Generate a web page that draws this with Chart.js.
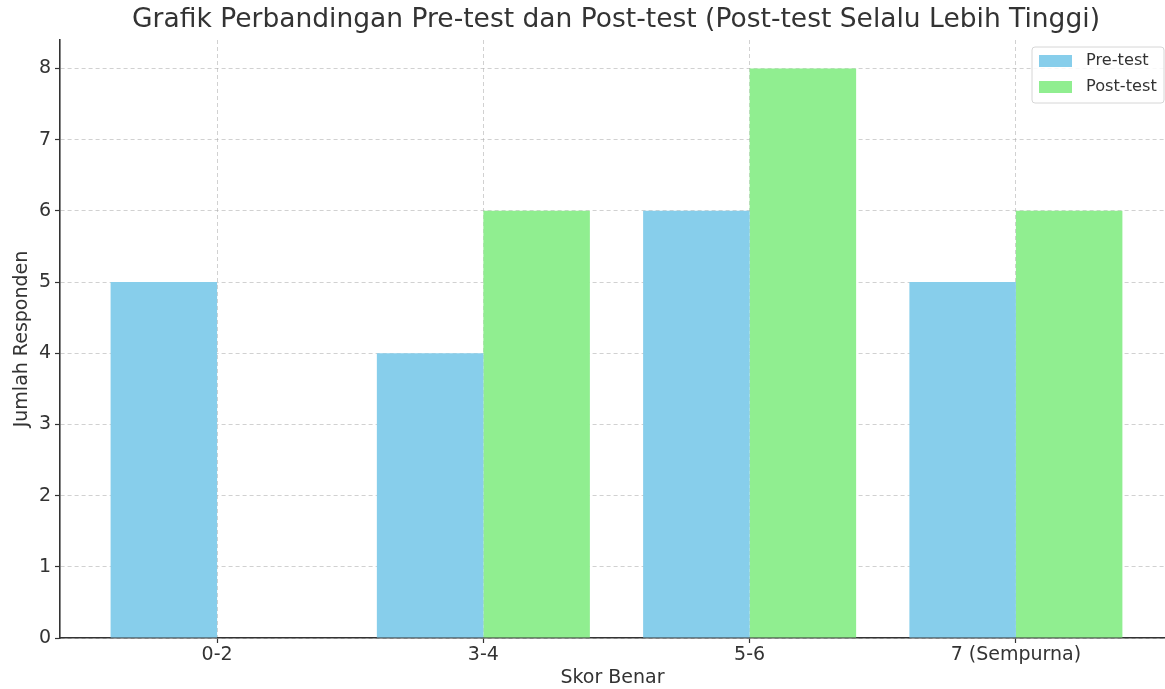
<!DOCTYPE html>
<html>
<head>
<meta charset="utf-8">
<script src="https://cdn.jsdelivr.net/npm/chart.js@4.4.1/dist/chart.umd.min.js"></script>
<style>
  html, body { margin: 0; padding: 0; background: #fff; }
  #wrap { width: 1165px; height: 689px; position: relative; }
</style>
</head>
<body>
<div id="wrap"><canvas id="c"></canvas></div>
<script>
// ---- data ----
const categories = ['0-2', '3-4', '5-6', '7 (Sempurna)'];
const preTest  = [5, 4, 6, 5];
const postTest = [0, 6, 8, 6];
const yTicks   = [0, 1, 2, 3, 4, 5, 6, 7, 8];

const TITLE = 'Grafik Perbandingan Pre-test dan Post-test (Post-test Selalu Lebih Tinggi)';
const FONT = "'DejaVu Sans', sans-serif";
const TXT = '#333333';
const GRID = 'rgba(170,170,170,0.6)';

// title + legend drawn on the chart area
const overlay = {
    id: 'overlay',
    afterDraw(chart) {
        const { ctx } = chart;
        ctx.save();
        ctx.fillStyle = TXT;
        ctx.font = `26.5px ${FONT}`;
        ctx.textAlign = 'center';
        ctx.textBaseline = 'middle';
        ctx.fillText(TITLE, 616, 20);

        // legend box
        const x = 1032, y = 47, w = 132, h = 56;
        ctx.beginPath();
        ctx.roundRect(x, y, w, h, 3);
        ctx.fillStyle = 'rgba(255,255,255,0.85)';
        ctx.fill();
        ctx.strokeStyle = '#d6d6d6';
        ctx.lineWidth = 1;
        ctx.stroke();
        ctx.font = `16.2px ${FONT}`;
        ctx.textAlign = 'left';
        chart.data.datasets.forEach((ds, i) => {
            const ry = y + 8 + i * 26;
            ctx.fillStyle = ds.backgroundColor;
            ctx.fillRect(x + 7, ry, 33, 12);
            ctx.fillStyle = TXT;
            ctx.fillText(ds.label, x + 54, ry + 6);
        });
        ctx.restore();
    }
};

new Chart(document.getElementById('c'), {
    type: 'bar',
    data: {
        datasets: [
            { label: 'Pre-test',  data: preTest.map((v, i) => ({ x: i, y: v })),  backgroundColor: '#87CEEB', borderWidth: 0 },
            { label: 'Post-test', data: postTest.map((v, i) => ({ x: i, y: v })), backgroundColor: '#90EE90', borderWidth: 0 }
        ]
    },
    options: {
        responsive: true,
        maintainAspectRatio: false,
        animation: false,
        layout: { padding: { top: 40, right: 0, left: 0, bottom: 0 } },
        datasets: { bar: { categoryPercentage: 0.8, barPercentage: 1.0 } },
        plugins: { legend: { display: false }, tooltip: { enabled: false }, title: { display: false } },
        scales: {
            x: {
                type: 'linear',
                min: -0.59,
                max: 3.56,
                offset: false,
                z: 1,
                afterBuildTicks: (s) => { s.ticks = categories.map((_, i) => ({ value: i })); },
                afterFit: (s) => { s.height = 51; },
                ticks: {
                    callback: (v) => categories[v],
                    color: TXT, font: { family: FONT, size: 19 }, padding: 1, autoSkip: false, maxRotation: 0
                },
                grid: { offset: false, color: GRID, lineWidth: 0.9, tickColor: TXT, tickLength: 5, tickWidth: 1.2 },
                border: { display: true, color: TXT, width: 1.6, dash: [4, 3] },
                title: { display: true, text: 'Skor Benar', color: TXT, font: { family: FONT, size: 19 }, padding: { top: 0, bottom: 0 } }
            },
            y: {
                min: 0,
                max: 8.4,
                z: 1,
                afterBuildTicks: (s) => { s.ticks = yTicks.map(v => ({ value: v })); },
                afterFit: (s) => { s.width = 60; },
                ticks: { color: TXT, font: { family: FONT, size: 19 }, padding: 4 },
                grid: { color: GRID, lineWidth: 0.9, tickColor: TXT, tickLength: 5, tickWidth: 1.2 },
                border: { display: true, color: TXT, width: 1.6, dash: [4, 3] },
                title: { display: true, text: 'Jumlah Responden', color: TXT, font: { family: FONT, size: 19 }, padding: { top: 11, bottom: 0 } }
            }
        }
    },
    plugins: [overlay]
});
</script>
</body>
</html>
